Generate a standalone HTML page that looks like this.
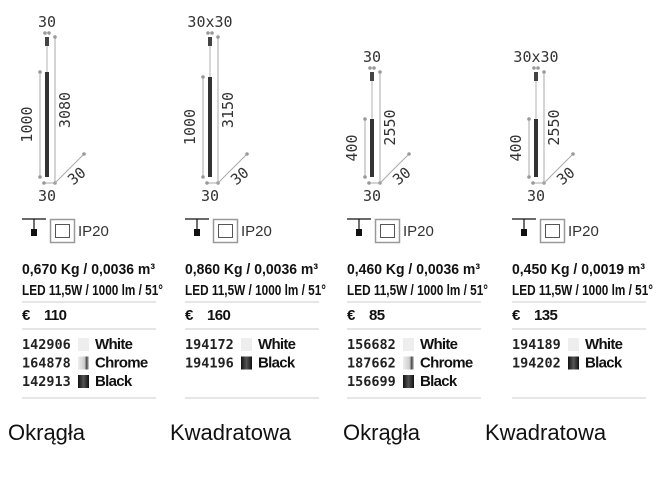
<!DOCTYPE html>
<html><head><meta charset="utf-8"><style>
html,body{margin:0;padding:0;background:#fff;}
svg text{font-family:"Liberation Sans",sans-serif;}
.mono{font-family:"DejaVu Sans Mono","Liberation Mono",monospace;}
</style></head><body>
<svg id="s" width="660" height="492" viewBox="0 0 660 492" xmlns="http://www.w3.org/2000/svg"></svg>
<script>
var cols=[
 {b:0,rod:47,top:"30",h:"3080",l:"1000",topY:37,rodTop:72,kg:"0,670 Kg / 0,0036 m³",eur:"110",codes:[["142906","White"],["164878","Chrome"],["142913","Black"]],name:"Okrągła",nx:8},
 {b:163,rod:210,top:"30x30",h:"3150",l:"1000",topY:37,rodTop:77,kg:"0,860 Kg / 0,0036 m³",eur:"160",codes:[["194172","White"],["194196","Black"]],name:"Kwadratowa",nx:170},
 {b:325,rod:372,top:"30",h:"2550",l:"400",topY:72,rodTop:119,kg:"0,460 Kg / 0,0036 m³",eur:"85",codes:[["156682","White"],["187662","Chrome"],["156699","Black"]],name:"Okrągła",nx:343},
 {b:490,rod:536,top:"30x30",h:"2550",l:"400",topY:72,rodTop:119,kg:"0,450 Kg / 0,0019 m³",eur:"135",codes:[["194189","White"],["194202","Black"]],name:"Kwadratowa",nx:485}
];
var h='';
function dot(x,y){return '<circle cx="'+x+'" cy="'+y+'" r="1.8" fill="#999"/>';}
cols.forEach(function(c){
 var r=c.rod, b=c.b, bot=177, g='#aaa';
 h+='<text class="mono" x="'+r+'" y="'+(c.topY-10)+'" font-size="15" text-anchor="middle" fill="#333">'+c.top+'</text>';
 h+=dot(r-2,c.topY-4)+dot(r+2,c.topY-4);
 h+='<rect x="'+(r-2)+'" y="'+c.topY+'" width="4" height="9" fill="#444"/>';
 h+='<line x1="'+r+'" y1="'+(c.topY+9)+'" x2="'+r+'" y2="'+c.rodTop+'" stroke="#ccc" stroke-width="1.5"/>';
 h+='<rect x="'+(r-2)+'" y="'+c.rodTop+'" width="4" height="'+(bot-c.rodTop)+'" fill="#333"/>';
 h+='<line x1="'+(r+8)+'" y1="'+c.topY+'" x2="'+(r+8)+'" y2="183" stroke="'+g+'"/>'+dot(r+8,c.topY)+dot(r+8,183);
 h+='<line x1="'+(r-7)+'" y1="'+c.rodTop+'" x2="'+(r-7)+'" y2="'+bot+'" stroke="'+g+'"/>'+dot(r-7,c.rodTop)+dot(r-7,bot);
 h+='<line x1="'+(r-3)+'" y1="183" x2="'+(r+8)+'" y2="183" stroke="'+g+'"/>'+dot(r-3,183);
 h+='<line x1="'+(r+8)+'" y1="183" x2="'+(r+37)+'" y2="154" stroke="'+g+'"/>'+dot(r+37,154);
 h+='<text class="mono" x="'+r+'" y="201" font-size="15" text-anchor="middle" fill="#333">30</text>';
 h+='<text class="mono" transform="translate('+(r+33)+',180) rotate(-40)" font-size="15" text-anchor="middle" fill="#333">30</text>';
 var hc=(c.topY+183)/2, lc=(c.rodTop+bot)/2;
 h+='<text class="mono" transform="translate('+(r+23)+','+hc+') rotate(-90)" font-size="15" text-anchor="middle" fill="#333">'+c.h+'</text>';
 h+='<text class="mono" transform="translate('+(r-15)+','+lc+') rotate(-90)" font-size="15" text-anchor="middle" fill="#333">'+c.l+'</text>';
 var x=b+22;
 h+='<line x1="'+x+'" y1="219" x2="'+(x+24)+'" y2="219" stroke="#111" stroke-width="1.2"/>';
 h+='<line x1="'+(x+12)+'" y1="219" x2="'+(x+12)+'" y2="230" stroke="#111" stroke-width="1.2"/>';
 h+='<rect x="'+(x+9)+'" y="229" width="6" height="7" fill="#111"/>';
 h+='<rect x="'+(x+28.5)+'" y="219.5" width="24" height="23" fill="none" stroke="#999" stroke-width="1.5"/>';
 h+='<rect x="'+(x+33.5)+'" y="224.5" width="14" height="13" fill="none" stroke="#555" stroke-width="1"/>';
 h+='<text x="'+(x+56)+'" y="236" font-size="15" fill="#333">IP20</text>';
 h+='<text x="'+x+'" y="274" font-size="15" font-weight="bold" textLength="133" lengthAdjust="spacingAndGlyphs" fill="#111">'+c.kg+'</text>';
 h+='<text x="'+x+'" y="295" font-size="15" font-weight="bold" textLength="141" lengthAdjust="spacingAndGlyphs" fill="#111">LED 11,5W / 1000 lm / 51°</text>';
 h+='<line x1="'+x+'" y1="302" x2="'+(x+134)+'" y2="302" stroke="#ccc"/>';
 h+='<text x="'+x+'" y="320" font-size="15" font-weight="bold" fill="#111">€</text>';
 h+='<text x="'+(x+22)+'" y="320" font-size="15" font-weight="bold" letter-spacing="-0.6" fill="#111">'+c.eur+'</text>';
 h+='<line x1="'+x+'" y1="329" x2="'+(x+134)+'" y2="329" stroke="#ccc"/>';
 c.codes.forEach(function(k,i){
  var y=349+i*18.5;
  h+='<text class="mono" x="'+x+'" y="'+y+'" font-size="13.5" font-weight="bold" fill="#222">'+k[0]+'</text>';
  var sw=k[1]=="White"?'#eee':(k[1]=="Black"?'url(#bk)':'url(#ch)');
  h+='<rect x="'+(x+56)+'" y="'+(y-11)+'" width="11" height="13" fill="'+sw+'"/>';
  h+='<text x="'+(x+73)+'" y="'+y+'" font-size="15" font-weight="bold" letter-spacing="-0.7" fill="#111">'+k[1]+'</text>';
 });
 h+='<line x1="'+x+'" y1="398" x2="'+(x+134)+'" y2="398" stroke="#ccc"/>';
 h+='<text x="'+c.nx+'" y="440" font-size="22" fill="#111">'+c.name+'</text>';
});
var defs='<defs><linearGradient id="bk"><stop offset="0" stop-color="#111"/><stop offset="0.5" stop-color="#555"/><stop offset="1" stop-color="#111"/></linearGradient><linearGradient id="ch"><stop offset="0" stop-color="#eee"/><stop offset="0.6" stop-color="#ccc"/><stop offset="0.8" stop-color="#444"/><stop offset="1" stop-color="#ddd"/></linearGradient></defs>';
document.getElementById('s').innerHTML=defs+h;
</script>
</body></html>
